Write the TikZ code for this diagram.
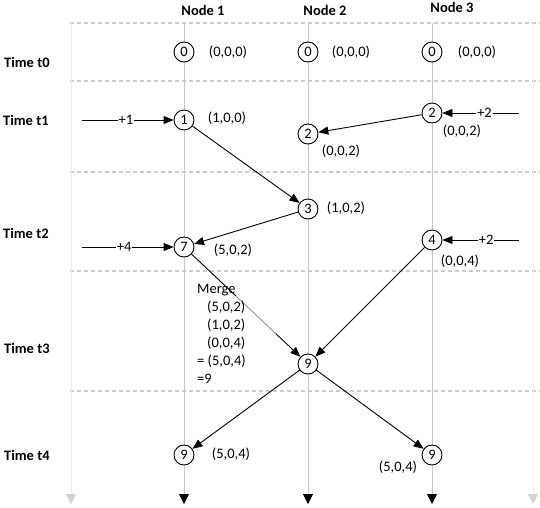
\documentclass[tikz,border=0pt]{standalone}
\usepackage{fontspec}
\setmainfont{Carlito}
\usetikzlibrary{arrows.meta,calc}
\begin{document}
\begin{tikzpicture}[x=1pt,y=-1pt,
  font=\fontsize{14.5}{18}\selectfont,
  ev/.style={circle, draw, fill=white, line width=0.9pt, minimum size=20pt, inner sep=0pt},
  msg/.style={-{Triangle[length=10pt,width=8pt]}, line width=0.9pt},
  lbl/.style={inner sep=0pt},
  hdr/.style={inner sep=0pt, font=\fontsize{14.5}{18}\selectfont\bfseries},
  sep/.style={gray!40, dash pattern=on 4pt off 3pt, line width=1.2pt},
  tline/.style={gray!45, line width=0.8pt, -{Triangle[length=10pt,width=10pt,color=black]}},
  eline/.style={gray!15, line width=0.8pt, -{Triangle[length=10pt,width=10pt,color=gray!35]}},
  inp/.style={fill=white, inner sep=1pt}
]
\useasboundingbox (0,0) rectangle (540,507);

% separators
\foreach \y in {23,81,172,271,391} \draw[sep] (70,\y) -- (540,\y);

% time lines
\coordinate (et) at (71,23);  \coordinate (eb) at (71,504);
\coordinate (ft) at (533,23); \coordinate (fb) at (533,504);
\coordinate (l1t) at (184,23); \coordinate (l1b) at (184,504);
\coordinate (l2t) at (308,23); \coordinate (l2b) at (308,504);
\coordinate (l3t) at (432,23); \coordinate (l3b) at (432,504);
\draw[eline] (et) -- (eb);
\draw[eline] (ft) -- (fb);
\draw[tline] (l1t) -- (l1b);
\draw[tline] (l2t) -- (l2b);
\draw[tline] (l3t) -- (l3b);

% headers
\node[hdr] (h1) at (203,10) {Node 1};
\node[hdr] (h2) at (325,10) {Node 2};
\node[hdr] (h3) at (452,7) {Node 3};

% time labels
\node[hdr, anchor=west] (t0) at (4,62) {Time t0};
\node[hdr, anchor=west] (t1) at (3,120) {Time t1};
\node[hdr, anchor=west] (t2) at (3,233) {Time t2};
\node[hdr, anchor=west] (t3) at (4,348) {Time t3};
\node[hdr, anchor=west] (t4) at (4,455) {Time t4};

% events
\node[ev] (a0) at (184,52) {0};
\node[ev] (b0) at (308,52) {0};
\node[ev] (c0) at (432,52) {0};
\node[lbl] (la0) at (228,52) {(0,0,0)};
\node[lbl] (lb0) at (351,52) {(0,0,0)};
\node[lbl] (lc0) at (477,52) {(0,0,0)};

\node[ev] (a1) at (184,120) {1};
\node[lbl] (la1) at (227,118) {(1,0,0)};
\node[ev] (c1) at (432,113) {2};
\node[lbl] (lc1) at (462,131) {(0,0,2)};
\node[ev] (b1) at (308,134) {2};
\node[lbl] (lb1) at (341,151) {(0,0,2)};

\node[ev] (b2) at (308,209) {3};
\node[lbl] (lb2) at (346,208) {(1,0,2)};
\node[ev] (a2) at (184,247) {7};
\node[lbl] (la2) at (233,250) {(5,0,2)};
\node[ev] (c2) at (432,240) {4};
\node[lbl] (lc2) at (460,261) {(0,0,4)};

\node[ev] (b3) at (308,364) {9};

\node[ev] (a4) at (184,455) {9};
\node[lbl] (la4) at (231,454) {(5,0,4)};
\node[ev] (c4) at (432,455) {9};
\node[lbl] (lc4) at (398,467) {(5,0,4)};

% inputs
\coordinate (i1) at (82,120);
\coordinate (i2) at (82,247);
\coordinate (i3) at (519,113);
\coordinate (i4) at (519,240);
\draw[msg] (i1) -- node[inp, pos=0.48] {+1} (a1);
\draw[msg] (i2) -- node[inp, pos=0.46] {+4} (a2);
\draw[msg] (i3) -- node[inp, pos=0.45] {+2} (c1);
\draw[msg] (i4) -- node[inp, pos=0.43] {+2} (c2);

% messages
\draw[msg] (c1) -- (b1);
\draw[msg] (a1) -- (b2);
\draw[msg] (b2) -- (a2);
\draw[msg] (a2) -- (b3);
\draw[msg] (c2) -- (b3);
\draw[msg] (b3) -- (a4);
\draw[msg] (b3) -- (c4);
\draw[white, opacity=0.6, line width=2pt] ($(a2)!0.42!(b3)$) -- ($(a2)!0.74!(b3)$);

% merge text
\node[lbl, anchor=north west, align=left] (mg) at (197,284)
  {Merge\\\hspace*{10pt}(5,0,2)\\\hspace*{10pt}(1,0,2)\\\hspace*{10pt}(0,0,4)\\= (5,0,4)\\=9};
\end{tikzpicture}
\end{document}
